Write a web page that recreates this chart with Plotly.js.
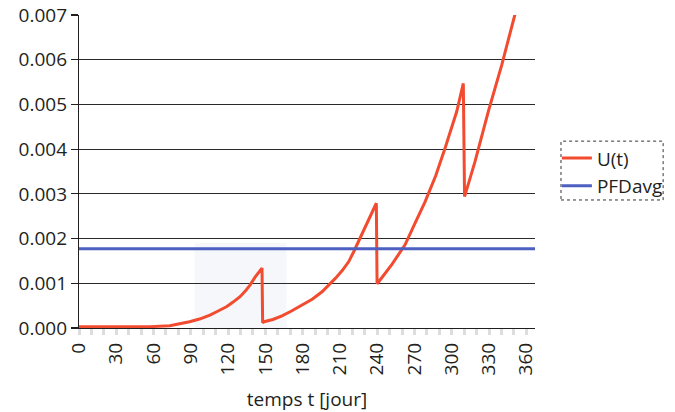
<!DOCTYPE html>
<html>
<head>
<meta charset="utf-8">
<script src="https://cdn.plot.ly/plotly-3.0.1.min.js"></script>
<style>html,body{margin:0;padding:0;background:#fff;}#chart{width:675px;height:412px;}</style>
</head>
<body>
<div id="chart"></div>
<script>
// Time in days
const tDays = [0, 30, 57, 73, 81, 89, 97, 105.4, 112, 119, 124, 129.6, 134, 137.6, 142, 145.7, 147.3,
               147.8, 149, 156, 163.4, 171, 179.5, 188, 195.6, 201, 206.3, 212, 217, 221, 225, 229, 233, 239.3,
               239.9, 241.4, 252, 262.4, 270, 278.5, 287, 294.6, 304, 309.3,
               310.3, 311, 318.7, 329.4, 340.2, 351, 355];
// Unavailability U(t)
const uValues = [0.00003, 0.00003, 0.00003, 0.00005, 0.00009, 0.00014, 0.00020, 0.00029, 0.00038, 0.00048, 0.00058, 0.00070, 0.00083, 0.00096, 0.00115, 0.00130, 0.00134,
                 0.00012, 0.00014, 0.00019, 0.00027, 0.00038, 0.00051, 0.00065, 0.00081, 0.00095, 0.00111, 0.00129, 0.00148, 0.00170, 0.00193, 0.00217, 0.00242, 0.00279,
                 0.00099, 0.00104, 0.00143, 0.00186, 0.00232, 0.00282, 0.00340, 0.00402, 0.00484, 0.00547,
                 0.00294, 0.00300, 0.00372, 0.00484, 0.00588, 0.00700, 0.00745];
// Average PFD
const pfdDays = [0, 367];
const pfdValues = [0.00177, 0.00177];

const seriesNames = ['U(t)', 'PFDavg'];
const xTitle = 'temps t [jour]';
const xTickVals = [0, 30, 60, 90, 120, 150, 180, 210, 240, 270, 300, 330, 360];
const yTickVals = [0, 0.001, 0.002, 0.003, 0.004, 0.005, 0.006, 0.007];

const FONT = 'Open Sans, Noto Sans, DejaVu Sans, sans-serif';

const traces = [
  {x: tDays, y: uValues, name: seriesNames[0], type: 'scatter', mode: 'lines',
   line: {color: '#f24b2f', width: 3}},
  {x: pfdDays, y: pfdValues, name: seriesNames[1], type: 'scatter', mode: 'lines',
   line: {color: '#4e5fc2', width: 3}}
];

const layout = {
  width: 675, height: 412,
  margin: {l: 79, r: 140, t: 15, b: 84, pad: 0, autoexpand: false},
  paper_bgcolor: '#ffffff', plot_bgcolor: '#ffffff',
  font: {family: FONT, size: 19, color: '#231f20'},
  showlegend: true,
  legend: {xref: 'container', yref: 'container', x: 0.825, y: 0.662, xanchor: 'left', yanchor: 'top',
           bgcolor: 'rgba(0,0,0,0)', borderwidth: 0,
           font: {family: FONT, size: 19, color: '#231f20'},
           tracegroupgap: 0, itemwidth: 30},
  xaxis: {
    range: [0, 367], tickmode: 'array', tickvals: xTickVals,
    ticktext: xTickVals.map(String), tickangle: -90,
    showgrid: false, zeroline: false,
    showline: true, linecolor: '#231f20', linewidth: 1.2,
    ticks: 'outside', ticklen: 6, tickcolor: '#dddddd', tickwidth: 3,
    minor: {dtick: 10, tick0: 0, ticks: 'outside', ticklen: 6, tickcolor: '#dddddd', tickwidth: 3, showgrid: false},
    tickfont: {family: FONT, size: 19, color: '#231f20'},
    title: {text: xTitle, font: {family: FONT, size: 19, color: '#231f20'}, standoff: 18}
  },
  yaxis: {
    range: [0, 0.007], tickmode: 'array', tickvals: yTickVals,
    ticktext: yTickVals.map(v => v.toFixed(3)),
    showgrid: true, gridcolor: '#2a2a2a', gridwidth: 1.2,
    zeroline: false, showline: true, linecolor: '#231f20', linewidth: 1.2,
    ticks: 'outside', ticklen: 7, tickcolor: '#231f20', tickwidth: 1.2,
    tickfont: {family: FONT, size: 19, color: '#231f20'}
  },
  shapes: [
    {type: 'rect', xref: 'x', yref: 'y', x0: 93, x1: 167, y0: 0, y1: 0.0019,
     fillcolor: 'rgba(225,232,242,0.35)', line: {width: 0}, layer: 'below'},
    {type: 'rect', xref: 'paper', yref: 'paper', x0: 1.057, x1: 1.281, y0: 0.409, y1: 0.597,
     fillcolor: 'rgba(0,0,0,0)', line: {color: '#333333', width: 1, dash: 'dot'}}
  ]
};

Plotly.newPlot('chart', traces, layout, {displayModeBar: false, staticPlot: true});
</script>
</body>
</html>
